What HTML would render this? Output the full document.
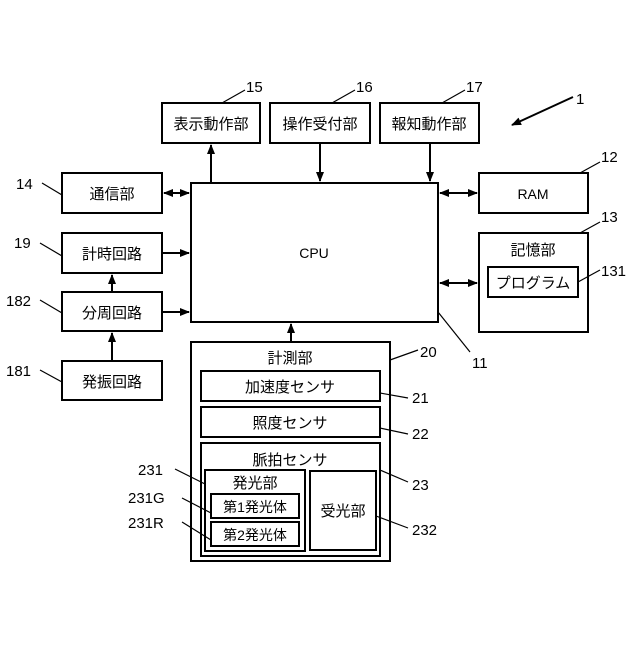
<!DOCTYPE html>
<html><head><meta charset="utf-8"><style>
body{margin:0;background:#fff}
text{font-family:"Liberation Sans","Noto Sans CJK JP",sans-serif;font-size:15px;fill:#000}
</style></head><body>
<svg width="640" height="640" viewBox="0 0 640 640" xmlns="http://www.w3.org/2000/svg">
<defs>
<marker id="a" markerWidth="10" markerHeight="10" refX="9" refY="5" orient="auto-start-reverse" markerUnits="userSpaceOnUse"><path d="M0,1 L10,5 L0,9 Z" fill="#000"/></marker>
</defs>
<g fill="none" stroke="#000" stroke-width="2">
<rect x="162" y="103" width="98" height="40"/>
<rect x="270" y="103" width="100" height="40"/>
<rect x="380" y="103" width="99" height="40"/>
<rect x="62" y="173" width="100" height="40"/>
<rect x="62" y="233" width="100" height="40"/>
<rect x="62" y="292" width="100" height="39"/>
<rect x="62" y="361" width="100" height="39"/>
<rect x="191" y="183" width="247" height="139"/>
<rect x="479" y="173" width="109" height="40"/>
<rect x="479" y="233" width="109" height="99"/>
<rect x="488" y="267" width="90" height="30"/>
<rect x="191" y="342" width="199" height="219"/>
<rect x="201" y="371" width="179" height="30"/>
<rect x="201" y="407" width="179" height="30"/>
<rect x="201" y="443" width="179" height="113"/>
<rect x="205" y="470" width="100" height="81"/>
<rect x="211" y="494" width="88" height="24"/>
<rect x="211" y="522" width="88" height="24"/>
<rect x="310" y="471" width="66" height="79"/>
</g>
<g stroke="#000" stroke-width="2" fill="none">
<line x1="211" y1="183" x2="211" y2="145" marker-end="url(#a)"/>
<line x1="320" y1="143" x2="320" y2="181" marker-end="url(#a)"/>
<line x1="430" y1="143" x2="430" y2="181" marker-end="url(#a)"/>
<line x1="164" y1="193" x2="189" y2="193" marker-start="url(#a)" marker-end="url(#a)"/>
<line x1="162" y1="253" x2="189" y2="253" marker-end="url(#a)"/>
<line x1="162" y1="312" x2="189" y2="312" marker-end="url(#a)"/>
<line x1="112" y1="292" x2="112" y2="275" marker-end="url(#a)"/>
<line x1="112" y1="361" x2="112" y2="333" marker-end="url(#a)"/>
<line x1="291" y1="342" x2="291" y2="324" marker-end="url(#a)"/>
<line x1="440" y1="193" x2="477" y2="193" marker-start="url(#a)" marker-end="url(#a)"/>
<line x1="440" y1="283" x2="477" y2="283" marker-start="url(#a)" marker-end="url(#a)"/>
<line x1="573" y1="97" x2="512" y2="125" marker-end="url(#a)"/>
</g>
<g stroke="#000" stroke-width="1.2" fill="none">
<path d="M222,103 L245,90"/><path d="M332,103 L355,90"/><path d="M442,103 L465,90"/>
<path d="M42,183 L62,195"/><path d="M40,243 L62,256"/><path d="M40,300 L62,313"/><path d="M40,370 L62,382"/>
<path d="M580,173 L600,162"/><path d="M580,233 L600,222"/><path d="M578,282 L600,270"/>
<path d="M438,312 L470,352"/><path d="M390,360 L418,350"/>
<path d="M380,393 L408,398"/><path d="M380,428 L408,434"/><path d="M380,470 L408,482"/>
<path d="M376,516 L408,528"/><path d="M175,469 L205,484"/><path d="M182,498 L211,513"/><path d="M182,522 L211,540"/>
</g>
<g text-anchor="middle">
<text x="211" y="129">表示動作部</text><text x="320" y="129">操作受付部</text><text x="429" y="129">報知動作部</text>
<text x="112" y="199">通信部</text><text x="112" y="259">計時回路</text><text x="112" y="318">分周回路</text><text x="112" y="387">発振回路</text>
<text x="314" y="258" style="font-size:14px">CPU</text><text x="533" y="199" style="font-size:14px">RAM</text>
<text x="533" y="255">記憶部</text><text x="533" y="288">プログラム</text>
<text x="290" y="363">計測部</text><text x="290" y="392">加速度センサ</text><text x="290" y="428">照度センサ</text>
<text x="290" y="465">脈拍センサ</text><text x="255" y="488">発光部</text>
<text x="255" y="512" style="font-size:14px">第1発光体</text><text x="255" y="540" style="font-size:14px">第2発光体</text>
<text x="343" y="516">受光部</text>
</g>
<g style="font-size:15px">
<text x="246" y="92">15</text><text x="356" y="92">16</text><text x="466" y="92">17</text><text x="576" y="104">1</text>
<text x="16" y="189">14</text><text x="14" y="248">19</text><text x="6" y="306">182</text><text x="6" y="376">181</text>
<text x="601" y="162">12</text><text x="601" y="222">13</text><text x="601" y="276">131</text>
<text x="472" y="368">11</text><text x="420" y="357">20</text>
<text x="412" y="403">21</text><text x="412" y="439">22</text><text x="412" y="490">23</text><text x="412" y="535">232</text>
<text x="138" y="475">231</text><text x="128" y="503">231G</text><text x="128" y="528">231R</text>
</g>
</svg>
</body></html>
